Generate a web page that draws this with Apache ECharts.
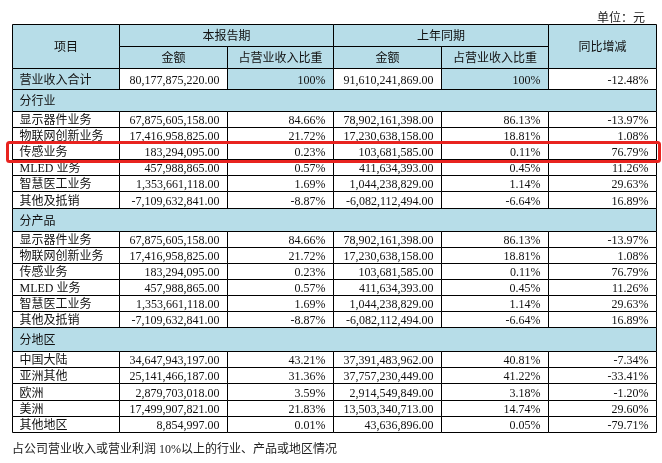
<!DOCTYPE html>
<html>
<head>
<meta charset="utf-8">
<script src="https://cdn.jsdelivr.net/npm/echarts@6/dist/echarts.min.js"></script>
<style>
html,body{margin:0;padding:0;background:#fff;}
#chart{width:662px;height:463px;}
</style>
</head>
<body>
<div id="chart"></div>
<script>
// ---------- DATA ----------
const unitLabel = '单位：元';
const footnote = '占公司营业收入或营业利润 10%以上的行业、产品或地区情况';
const headerItem = '项目';
const headerCurrent = '本报告期';
const headerPrevious = '上年同期';
const headerAmount = '金额';
const headerShare = '占营业收入比重';
const headerYoy = '同比增减';

const totalLabel = '营业收入合计';
const totalCurAmount = 80177875220.00;
const totalCurShare = 100;
const totalPrevAmount = 91610241869.00;
const totalPrevShare = 100;
const totalYoy = -12.48;

const industryTitle = '分行业';
const industryItems = ['显示器件业务', '物联网创新业务', '传感业务', 'MLED 业务', '智慧医工业务', '其他及抵销'];
const industryCurAmount = [67875605158.00, 17416958825.00, 183294095.00, 457988865.00, 1353661118.00, -7109632841.00];
const industryCurShare = [84.66, 21.72, 0.23, 0.57, 1.69, -8.87];
const industryPrevAmount = [78902161398.00, 17230638158.00, 103681585.00, 411634393.00, 1044238829.00, -6082112494.00];
const industryPrevShare = [86.13, 18.81, 0.11, 0.45, 1.14, -6.64];
const industryYoy = [-13.97, 1.08, 76.79, 11.26, 29.63, 16.89];

const productTitle = '分产品';
const productItems = ['显示器件业务', '物联网创新业务', '传感业务', 'MLED 业务', '智慧医工业务', '其他及抵销'];
const productCurAmount = [67875605158.00, 17416958825.00, 183294095.00, 457988865.00, 1353661118.00, -7109632841.00];
const productCurShare = [84.66, 21.72, 0.23, 0.57, 1.69, -8.87];
const productPrevAmount = [78902161398.00, 17230638158.00, 103681585.00, 411634393.00, 1044238829.00, -6082112494.00];
const productPrevShare = [86.13, 18.81, 0.11, 0.45, 1.14, -6.64];
const productYoy = [-13.97, 1.08, 76.79, 11.26, 29.63, 16.89];

const regionTitle = '分地区';
const regionItems = ['中国大陆', '亚洲其他', '欧洲', '美洲', '其他地区'];
const regionCurAmount = [34647943197.00, 25141466187.00, 2879703018.00, 17499907821.00, 8854997.00];
const regionCurShare = [43.21, 31.36, 3.59, 21.83, 0.01];
const regionPrevAmount = [37391483962.00, 37757230449.00, 2914549849.00, 13503340713.00, 43636896.00];
const regionPrevShare = [40.81, 41.22, 3.18, 14.74, 0.05];
const regionYoy = [-7.34, -33.41, -1.20, 29.60, -79.71];

const highlightItem = '传感业务'; // highlighted row in 分行业

// ---------- LAYOUT (table units = px) ----------
const colEdges = [0, 107, 215, 321, 429, 536, 644];
const headerRowH = 22;
const totalRowH = 21;
const bandRowH = [22, 23, 24];
const dataRowH = 16.1;
const BLUE = '#b7dde8';
const FONT = '12px "Liberation Serif", "Noto Sans CJK SC", serif';

function fmtAmount(v) {
  const neg = v < 0;
  const s = Math.abs(v).toFixed(2);
  const parts = s.split('.');
  parts[0] = parts[0].replace(/\B(?=(\d{3})+(?!\d))/g, ',');
  return (neg ? '-' : '') + parts[0] + '.' + parts[1];
}
function fmtPct(v) {
  if (v === 100) return '100%';
  return v.toFixed(2) + '%';
}

const cells = [];
let y = 0;
function cell(c0, c1, y0, y1, text, align, fill) {
  cells.push({ kind: 'cell', x0: colEdges[c0], x1: colEdges[c1], y0: y0, y1: y1, text: text, align: align, fill: fill });
}
// header
cell(0, 1, 0, headerRowH * 2, headerItem, 'center', BLUE);
cell(1, 3, 0, headerRowH, headerCurrent, 'center', BLUE);
cell(3, 5, 0, headerRowH, headerPrevious, 'center', BLUE);
cell(5, 6, 0, headerRowH * 2, headerYoy, 'center', BLUE);
cell(1, 2, headerRowH, headerRowH * 2, headerAmount, 'center', BLUE);
cell(2, 3, headerRowH, headerRowH * 2, headerShare, 'center', BLUE);
cell(3, 4, headerRowH, headerRowH * 2, headerAmount, 'center', BLUE);
cell(4, 5, headerRowH, headerRowH * 2, headerShare, 'center', BLUE);
y = headerRowH * 2;
// total
cell(0, 1, y, y + totalRowH, totalLabel, 'left', BLUE);
cell(1, 2, y, y + totalRowH, fmtAmount(totalCurAmount), 'right', '#fff');
cell(2, 3, y, y + totalRowH, fmtPct(totalCurShare), 'right', BLUE);
cell(3, 4, y, y + totalRowH, fmtAmount(totalPrevAmount), 'right', '#fff');
cell(4, 5, y, y + totalRowH, fmtPct(totalPrevShare), 'right', BLUE);
cell(5, 6, y, y + totalRowH, fmtPct(totalYoy), 'right', '#fff');
y += totalRowH;

let highlight = null;
const groups = [
  [industryTitle, industryItems, industryCurAmount, industryCurShare, industryPrevAmount, industryPrevShare, industryYoy, true],
  [productTitle, productItems, productCurAmount, productCurShare, productPrevAmount, productPrevShare, productYoy, false],
  [regionTitle, regionItems, regionCurAmount, regionCurShare, regionPrevAmount, regionPrevShare, regionYoy, false]
];
groups.forEach(function (g, gi) {
  const bh = bandRowH[gi];
  cell(0, 6, y, y + bh, g[0], 'left', BLUE);
  y += bh;
  g[1].forEach(function (name, i) {
    const y0 = y, y1 = y + dataRowH;
    cell(0, 1, y0, y1, name, 'left', '#fff');
    cell(1, 2, y0, y1, fmtAmount(g[2][i]), 'right', '#fff');
    cell(2, 3, y0, y1, fmtPct(g[3][i]), 'right', '#fff');
    cell(3, 4, y0, y1, fmtAmount(g[4][i]), 'right', '#fff');
    cell(4, 5, y0, y1, fmtPct(g[5][i]), 'right', '#fff');
    cell(5, 6, y0, y1, fmtPct(g[6][i]), 'right', '#fff');
    if (g[7] && name === highlightItem) highlight = { y0: y0, y1: y1 };
    y = y1;
  });
});
const tableH = y;
if (highlight) cells.push({ kind: 'mark', x0: colEdges[0], x1: colEdges[6], y0: highlight.y0, y1: highlight.y1 });

const chart = echarts.init(document.getElementById('chart'), null, { renderer: 'canvas' });
chart.setOption({
  backgroundColor: '#fff',
  animation: false,
  title: [
    { text: unitLabel, right: 12, top: 8, textStyle: { fontSize: 12, fontWeight: 'normal', color: '#222', fontFamily: '"Liberation Serif", "Noto Sans CJK SC", serif' } },
    { text: footnote, left: 7, top: 439, textStyle: { fontSize: 12, fontWeight: 'normal', color: '#222', fontFamily: '"Liberation Serif", "Noto Sans CJK SC", serif' } }
  ],
  grid: { left: 12, top: 24, width: 644, height: tableH },
  xAxis: { type: 'value', min: 0, max: colEdges[6], show: false },
  yAxis: { type: 'value', min: 0, max: tableH, inverse: true, show: false },
  series: [{
    type: 'custom',
    coordinateSystem: 'cartesian2d',
    clip: false,
    data: cells.map(function (c) { return [c.x0, c.y0, c.x1, c.y1]; }),
    renderItem: function (params, api) {
      const c = cells[params.dataIndex];
      const p0 = api.coord([api.value(0), api.value(1)]);
      const p1 = api.coord([api.value(2), api.value(3)]);
      const x0 = Math.round(p0[0]) + 0.5, y0 = Math.round(p0[1]) + 0.5;
      const x1 = Math.round(p1[0]) + 0.5, y1 = Math.round(p1[1]) + 0.5;
      if (c.kind === 'mark') {
        return {
          type: 'rect',
          z2: 100,
          shape: { x: x0 - 5, y: y0 - 1, width: (x1 - x0) + 8, height: (y1 - y0) + 3, r: 2 },
          style: { fill: 'none', stroke: '#e8231f', lineWidth: 3 }
        };
      }
      let tx, ta = c.align;
      if (ta === 'left') tx = x0 + 7;
      else if (ta === 'right') tx = x1 - 8;
      else tx = (x0 + x1) / 2;
      return {
        type: 'group',
        children: [
          { type: 'rect', shape: { x: x0, y: y0, width: x1 - x0, height: y1 - y0 },
            style: { fill: c.fill, stroke: '#000', lineWidth: 1 } },
          { type: 'text', z2: 10, style: { text: c.text, x: tx, y: (y0 + y1) / 2 + 1.5, align: ta, verticalAlign: 'middle', font: FONT, fill: '#111' } }
        ]
      };
    }
  }]
});
</script>
</body>
</html>
